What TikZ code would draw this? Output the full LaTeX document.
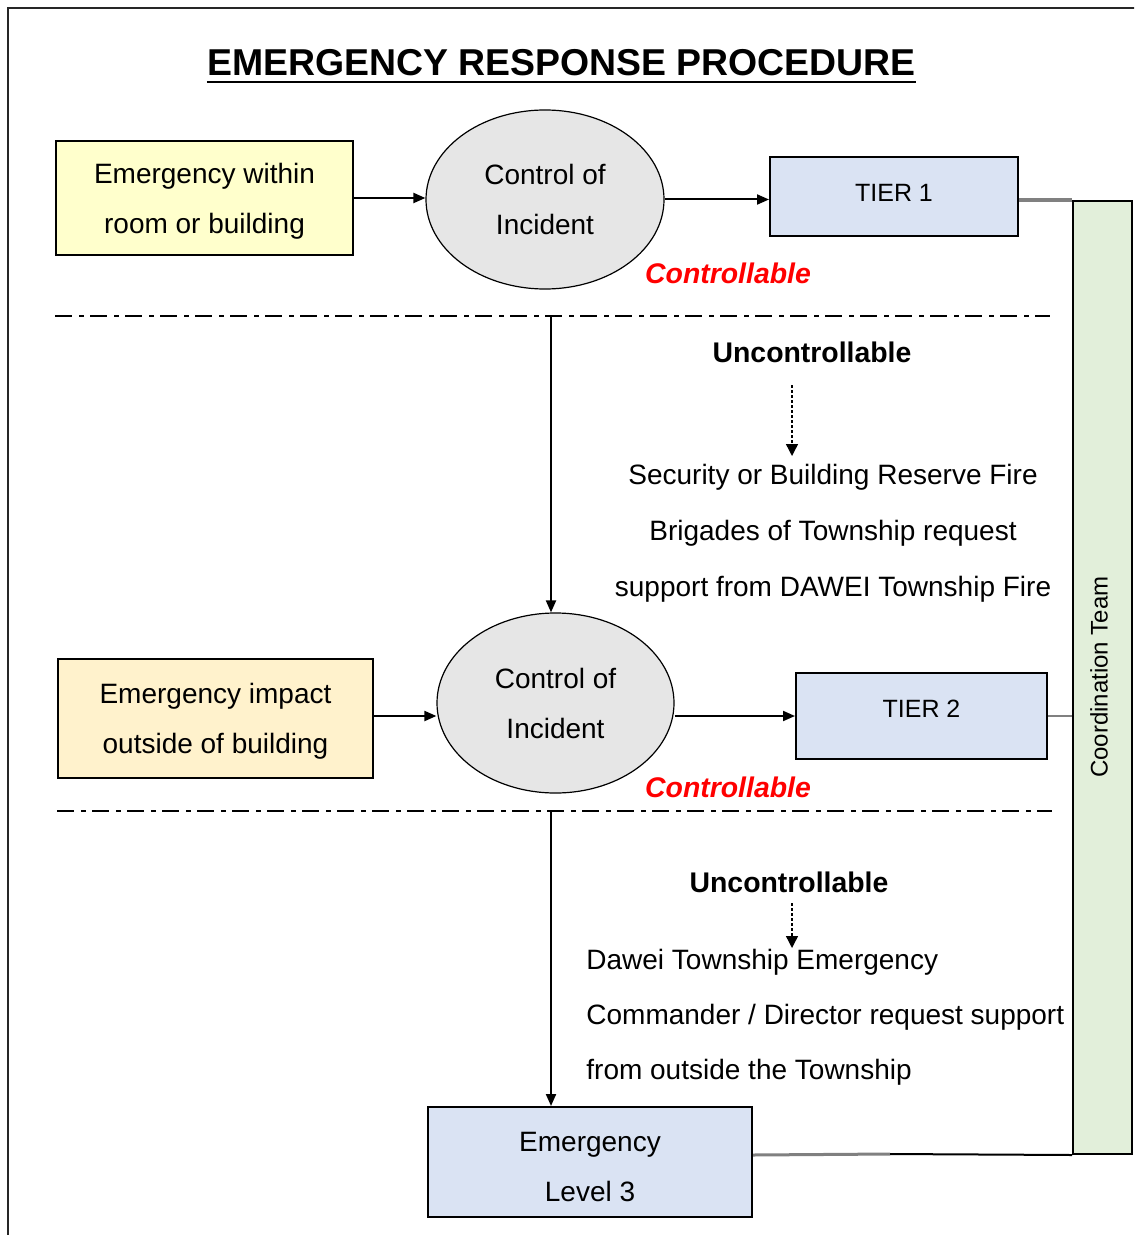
\documentclass[tikz,border=0pt]{standalone}
\usepackage{fontspec}
\setmainfont{Liberation Sans}
\usetikzlibrary{arrows.meta,shapes.geometric}
\definecolor{yel}{HTML}{FFFFCC}
\definecolor{peach}{HTML}{FFF2CC}
\definecolor{tierblue}{HTML}{DAE3F3}
\definecolor{ellgray}{HTML}{E6E6E6}
\definecolor{bargreen}{HTML}{E2EFDA}
\begin{document}
\begin{tikzpicture}[x=0.5pt,y=-0.5pt,
  txt/.style={font=\fontsize{14}{25}\selectfont, align=center},
  boxnode/.style={draw, line width=1pt, inner sep=0pt, txt},
  ellnode/.style={draw, ellipse, fill=ellgray, line width=0.6pt, inner sep=0pt, txt},
  arr/.style={line width=1pt, -{Triangle[length=6pt,width=5pt]}},
  dotarr/.style={line width=0.7pt, dash pattern=on 1.5pt off 1pt, -{Triangle[length=6pt,width=6pt]}},
  dashdot/.style={line width=1.2pt, dash pattern=on 8.5pt off 3.5pt on 2.5pt off 3pt},
  ctrl/.style={font=\bfseries\itshape\fontsize{14.2}{16}\selectfont, text=red, inner sep=0pt},
  unctrl/.style={font=\bfseries\fontsize{14.2}{16}\selectfont, inner sep=0pt}]
\useasboundingbox (0,0) rectangle (1134,1235);
\clip (0,0) rectangle (1134,1235);
% frame
\draw[line width=1pt, black!85] (8,8) rectangle (1160,1260);
% title
\node[font=\bfseries\fontsize{18.7}{22}\selectfont, anchor=base, inner sep=0pt] (title) at (561.5,76) {EMERGENCY RESPONSE PROCEDURE};
\draw[line width=1pt] ([yshift=-3pt]title.base west) -- ([yshift=-3pt]title.base east);
% nodes
\node[boxnode, fill=yel, minimum width=148.5pt, minimum height=57pt] (b1) at (204.5,198) {\rule{0pt}{13.2pt}Emergency within\\room or building};
\node[ellnode, minimum width=119pt, minimum height=89.5pt] (e1) at (545,199.5) {Control of\\Incident};
\node[boxnode, fill=tierblue, minimum width=124pt, minimum height=39.5pt, font=\fontsize{12.5}{15}\selectfont, text height=9pt, text depth=4pt] (t1) at (894,196.5) {TIER 1};
\node[boxnode, fill=bargreen, minimum width=29.5pt, minimum height=476.5pt] (bar) at (1102.5,677.5) {};
\node[rotate=90, font=\fontsize{12}{14}\selectfont, inner sep=0pt] (ct) at (1099,677) {Coordination Team};
\node[boxnode, fill=peach, minimum width=157.5pt, minimum height=59.5pt] (b2) at (215.5,718.5) {\rule{0pt}{13.2pt}Emergency impact\\outside of building};
\node[ellnode, minimum width=118.5pt, minimum height=90pt] (e2) at (555.5,703) {Control of\\Incident};
\node[boxnode, fill=tierblue, minimum width=125.5pt, minimum height=43pt, font=\fontsize{12.5}{15}\selectfont, text height=9pt, text depth=8pt] (t2) at (921.5,716) {TIER 2};
\node[boxnode, fill=tierblue, minimum width=162pt, minimum height=55pt] (l3) at (590,1162) {\rule{0pt}{15pt}Emergency\\Level 3};
% labels
\node[ctrl] (c1) at (728,273) {Controllable};
\node[ctrl] (c2) at (728,787) {Controllable};
\node[unctrl] (u1) at (812,352) {Uncontrollable};
\node[unctrl] (u2) at (789,882) {Uncontrollable};
\node[txt, font=\fontsize{14}{28}\selectfont, inner sep=0pt] (s1) at (833,533) {Security or Building Reserve Fire\\Brigades of Township request\\support from DAWEI Township Fire};
\node[txt, align=left, anchor=west, font=\fontsize{14}{27.5}\selectfont, inner sep=0pt] (s2) at (586,1017) {Dawei Township Emergency\\Commander / Director request support\\from outside the Township};
% dash-dot separators
\coordinate (dl1a) at (55,316);
\coordinate (dl1b) at (1050,316);
\coordinate (dl2a) at (57,811);
\coordinate (dl2b) at (1052,811);
\draw[dashdot] (dl1a) -- (dl1b);
\draw[dashdot] (dl2a) -- (dl2b);
% main arrows
\draw[arr] (b1.east) -- (b1.east -| e1.west);
\draw[arr] (e1.east) -- (e1.east -| t1.west);
\draw[arr] (b2.east |- t2.west) -- (e2.west |- t2.west);
\draw[arr] (e2.east |- t2.west) -- (t2.west);
\coordinate (v1) at (551,316);
\coordinate (v2) at (551,811);
\draw[arr] (v1) -- (v1 |- e2.north);
\draw[arr] (v2) -- (v2 |- l3.north);
% dotted arrows
\coordinate (d1a) at (792,385);
\coordinate (d1b) at (792,456);
\coordinate (d2a) at (792,903);
\coordinate (d2b) at (792,948);
\draw[dotarr] (d1a) -- (d1b);
\draw[dotarr] (d2a) -- (d2b);
% links to coordination team
\draw[gray, line width=2pt] (t1.east |- bar.north) -- (bar.north west);
\draw[gray, line width=1.2pt] (t2.east) -- (t2.east -| bar.west);
\coordinate (mid) at (890,1154);
\draw[gray, line width=1.5pt] (l3.east |- bar.south) -- (mid);
\draw[line width=1pt] (mid) -- (bar.south west);
\end{tikzpicture}
\end{document}
